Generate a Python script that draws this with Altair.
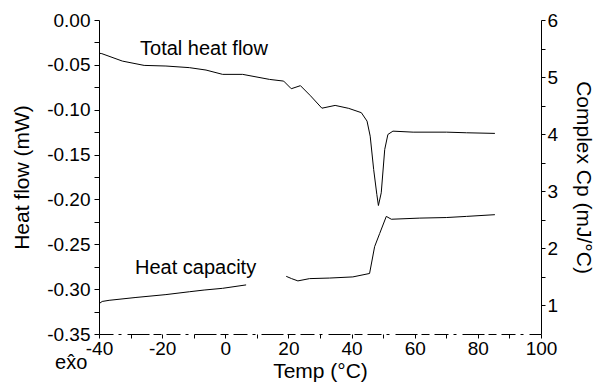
import altair as alt
import pandas as pd

# Total heat flow trace (left axis, mW)
hf_temp = [-40.0, -39.1, -32.6, -25.7, -18.8, -11.4, -6.1, -0.85, 5.5, 14.0, 18.5,
           20.9, 23.8, 27.0, 30.6, 34.8, 39.1, 43.1, 44.9, 45.9, 47.0, 48.0, 48.5,
           49.4, 50.5, 51.5, 53.1, 59.5, 70.1, 76.4, 85.4]
hf_value = [-0.037, -0.0375, -0.0458, -0.0506, -0.0513, -0.0531, -0.0558, -0.0606,
            -0.0606, -0.0662, -0.0681, -0.0766, -0.0732, -0.0845, -0.0983, -0.0952,
            -0.0985, -0.1033, -0.1127, -0.1295, -0.1666, -0.1945, -0.2068, -0.1926,
            -0.1443, -0.1276, -0.1239, -0.125, -0.125, -0.1257, -0.1264]

# Complex heat capacity trace (right axis, mJ/°C); two pieces with a gap
cp_temp = [-40.0, -39.0, -36.8, -28.3, -18.8, -11.4, -6.7, -0.85, 6.6,
           19.3, 21.0, 23.0, 26.7, 33.0, 40.4, 45.7, 47.3, 48.9, 51.0, 52.6,
           61.6, 70.0, 76.4, 85.4]
cp_value = [1.03, 1.07, 1.09, 1.14, 1.19, 1.24, 1.27, 1.30, 1.36,
            1.51, 1.47, 1.43, 1.47, 1.48, 1.50, 1.56, 2.03, 2.26, 2.56, 2.51,
            2.53, 2.54, 2.56, 2.59]
cp_piece = [1] * 9 + [2] * 15

# Axis ticks
temp_ticks = [-40, -30, -20, -10, 0, 10, 20, 30, 40, 50, 60, 70, 80, 90, 100]
hf_ticks = [-0.35, -0.325, -0.3, -0.275, -0.25, -0.225, -0.2, -0.175, -0.15,
            -0.125, -0.1, -0.075, -0.05, -0.025, 0]
cp_ticks = [1, 1.5, 2, 2.5, 3, 3.5, 4, 4.5, 5, 5.5, 6]

# Curve annotations and the exotherm-direction marker below the axis
note_text = ["Total heat flow", "Heat capacity", "ex\u0302o"]
note_temp = [-27.0, -28.6, -53.9]
note_hf = [-0.0327, -0.276, -0.382]

hf_df = pd.DataFrame({"temp": hf_temp, "hf": hf_value})
cp_df = pd.DataFrame({"temp": cp_temp, "cp": cp_value, "piece": cp_piece})
note_df = pd.DataFrame({"temp": note_temp, "hf": note_hf, "label": note_text})

FONT = "Liberation Sans"

x_enc = alt.X(
    "temp:Q",
    scale=alt.Scale(domain=[-40, 100], nice=False, zero=False),
    axis=alt.Axis(
        title="Temp (°C)", values=temp_ticks,
        labelExpr="datum.value % 20 == 0 ? (datum.value < 0 ? '-' + format(-datum.value, 'd') : format(datum.value, 'd')) : ''",
        tickSize=4, labelPadding=1, titlePadding=2,
        domainDash=[14, 5, 3, 6, 22, 4, 8, 5],
    ),
)

y_hf = alt.Y(
    "hf:Q",
    scale=alt.Scale(domain=[-0.35, 0], nice=False, zero=False),
    axis=alt.Axis(
        title="Heat flow (mW)", values=hf_ticks,
        labelExpr="round(datum.value * 1000) % 50 == 0 ? (datum.value < 0 ? '-' + format(-datum.value, '.2f') : format(datum.value, '.2f')) : ''",
        tickSize=5, labelPadding=4, titlePadding=14,
    ),
)

hf_line = alt.Chart(hf_df).mark_line(color="black", strokeWidth=1).encode(
    x=x_enc, y=y_hf, order="temp:Q"
)

notes = alt.Chart(note_df).mark_text(
    align="left", baseline="middle", font=FONT, fontSize=20, color="black"
).encode(x=x_enc, y=y_hf, text="label:N")

cp_line = alt.Chart(cp_df).mark_line(color="black", strokeWidth=1).encode(
    x=x_enc,
    y=alt.Y(
        "cp:Q",
        scale=alt.Scale(domain=[0.5, 6], nice=False, zero=False),
        axis=alt.Axis(
            title="Complex Cp (mJ/°C)", orient="right", values=cp_ticks,
            labelExpr="datum.value % 1 == 0 ? format(datum.value, 'd') : ''",
            tickSize=4, labelPadding=2, titlePadding=15,
        ),
    ),
    detail="piece:N",
    order="temp:Q",
)

left = alt.layer(hf_line, notes)

chart = (
    alt.layer(left, cp_line)
    .resolve_scale(y="independent")
    .properties(
        width=442, height=314,
        autosize=alt.AutoSizeParams(type="none"),
        padding={"left": 99, "top": 20, "right": 65, "bottom": 48},
        background="white",
    )
    .configure_view(stroke=None)
    .configure_axis(
        grid=False, domainColor="black", domainWidth=1, tickColor="black",
        tickWidth=1, labelFont=FONT, labelFontSize=19, labelColor="black",
        titleFont=FONT, titleFontSize=21, titleFontWeight="normal",
        titleColor="black", labelFlush=False, labelOverlap=False,
    )
)

chart.save("out.html", embed_options={"renderer": "svg", "actions": False})
